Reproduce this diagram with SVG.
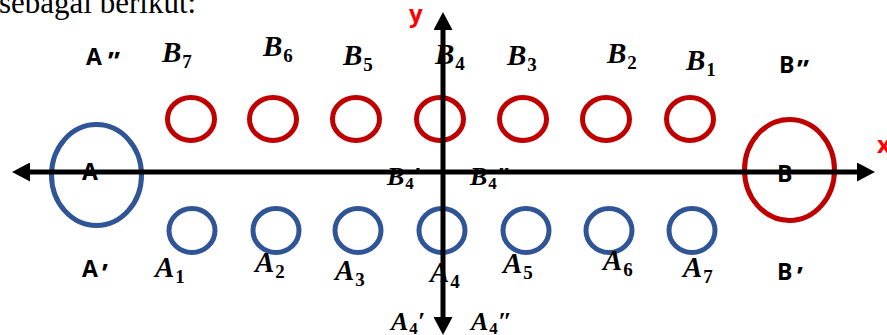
<svg xmlns="http://www.w3.org/2000/svg" width="887" height="335" viewBox="0 0 887 335">
<style>
.r{fill:none;stroke:#C00000;stroke-width:5}
.b{fill:none;stroke:#2F5597;stroke-width:5}
.m{font-family:"Liberation Serif",serif;font-weight:bold;font-style:italic;font-size:29px;fill:#000}
.sm{font-size:26px}
.s{font-style:normal;font-size:19px}
.ss{font-style:normal;font-size:17px}
.t{font-family:"Open Sans","Liberation Sans",sans-serif;font-weight:bold;font-size:23px;fill:#000}
.q{font-size:27px}
.axl{font-family:"Open Sans","Liberation Sans",sans-serif;font-weight:bold;font-size:24px;fill:#FF0000}
.ax{stroke:#000;stroke-width:5;fill:none}
</style>
<defs>
<marker id="arr" markerUnits="userSpaceOnUse" markerWidth="18" markerHeight="19" refX="2" refY="9.5" orient="auto-start-reverse">
<path d="M0,0 L18,9.5 L0,19 z" fill="#000"/>
</marker>
</defs>
<rect width="887" height="335" fill="#fff"/>
<text x="-1" y="13" style="font-family:'Liberation Serif',serif;font-size:31px">sebagai berikut:</text>

<g id="A"><ellipse class="b" cx="96.5" cy="175" rx="45" ry="50.5"/></g>
<g id="B"><ellipse class="r" cx="789.5" cy="170" rx="45" ry="50.5"/></g>

<g id="B7"><ellipse class="r" cx="191" cy="119" rx="23.5" ry="21.5"/><text class="m" x="162" y="62">B<tspan class="s" dx="1" dy="6">7</tspan></text></g>
<g id="B6"><ellipse class="r" cx="273" cy="119" rx="23.5" ry="21.5"/><text class="m" x="263" y="56">B<tspan class="s" dx="1" dy="6">6</tspan></text></g>
<g id="B5"><ellipse class="r" cx="356" cy="119" rx="23.5" ry="21.5"/><text class="m" x="343" y="65">B<tspan class="s" dx="1" dy="6">5</tspan></text></g>
<g id="B4"><ellipse class="r" cx="440" cy="119" rx="23.5" ry="21.5"/><text class="m" x="435" y="64">B<tspan class="s" dx="1" dy="6">4</tspan></text></g>
<g id="B3"><ellipse class="r" cx="523" cy="119" rx="23.5" ry="21.5"/><text class="m" x="507" y="65">B<tspan class="s" dx="1" dy="6">3</tspan></text></g>
<g id="B2"><ellipse class="r" cx="606" cy="119" rx="23.5" ry="21.5"/><text class="m" x="607" y="63">B<tspan class="s" dx="1" dy="6">2</tspan></text></g>
<g id="B1"><ellipse class="r" cx="690" cy="119" rx="23.5" ry="21.5"/><text class="m" x="686" y="70">B<tspan class="s" dx="1" dy="6">1</tspan></text></g>

<g id="A1"><ellipse class="b" cx="192" cy="230.5" rx="23" ry="22"/><text class="m" x="155" y="277">A<tspan class="s" dx="1" dy="6">1</tspan></text></g>
<g id="A2"><ellipse class="b" cx="276" cy="230.5" rx="23" ry="22"/><text class="m" x="255" y="272">A<tspan class="s" dx="1" dy="6">2</tspan></text></g>
<g id="A3"><ellipse class="b" cx="358" cy="230.5" rx="23" ry="22"/><text class="m" x="335" y="280">A<tspan class="s" dx="1" dy="6">3</tspan></text></g>
<g id="A4"><ellipse class="b" cx="442" cy="230.5" rx="23" ry="22"/><text class="m" x="430" y="282">A<tspan class="s" dx="1" dy="6">4</tspan></text></g>
<g id="A5"><ellipse class="b" cx="526" cy="230.5" rx="23" ry="22"/><text class="m" x="503" y="273">A<tspan class="s" dx="1" dy="6">5</tspan></text></g>
<g id="A6"><ellipse class="b" cx="609" cy="230.5" rx="23" ry="22"/><text class="m" x="603" y="270">A<tspan class="s" dx="1" dy="6">6</tspan></text></g>
<g id="A7"><ellipse class="b" cx="692" cy="230.5" rx="23" ry="22"/><text class="m" x="683" y="277">A<tspan class="s" dx="1" dy="6">7</tspan></text></g>

<g id="labels">
<text class="t" x="86" y="65">A<tspan class="q" x="108" y="71">”</tspan></text>
<text class="t" x="779" y="73">B<tspan class="q" x="797" y="79">”</tspan></text>
<text class="t" x="82" y="277">A<tspan class="q" x="102" y="283">’</tspan></text>
<text class="t" x="777" y="280">B<tspan class="q" x="797" y="286">’</tspan></text>
<text class="m sm" x="387" y="185">B<tspan class="ss" dx="1" dy="4">4</tspan><tspan dy="-4">′</tspan></text>
<text class="m sm" x="470" y="185">B<tspan class="ss" dx="1" dy="4">4</tspan><tspan dy="-4">″</tspan></text>
<text class="m sm" x="391" y="330">A<tspan class="ss" dx="1" dy="4">4</tspan><tspan dy="-4">′</tspan></text>
<text class="m sm" x="471" y="330">A<tspan class="ss" dx="1" dy="4">4</tspan><tspan dy="-4">″</tspan></text>
</g>

<g id="axes">
<line class="ax" x1="28" y1="172" x2="859" y2="172" marker-start="url(#arr)" marker-end="url(#arr)"/>
<line class="ax" x1="443" y1="28" x2="443" y2="319" marker-start="url(#arr)" marker-end="url(#arr)"/>
<text class="axl" x="409" y="22">y</text>
<text class="axl" x="877" y="153">x</text>
</g>
<g id="centerlabels">
<text class="t" x="82" y="180">A</text>
<text class="t" x="777" y="182">B</text>
</g>
</svg>
